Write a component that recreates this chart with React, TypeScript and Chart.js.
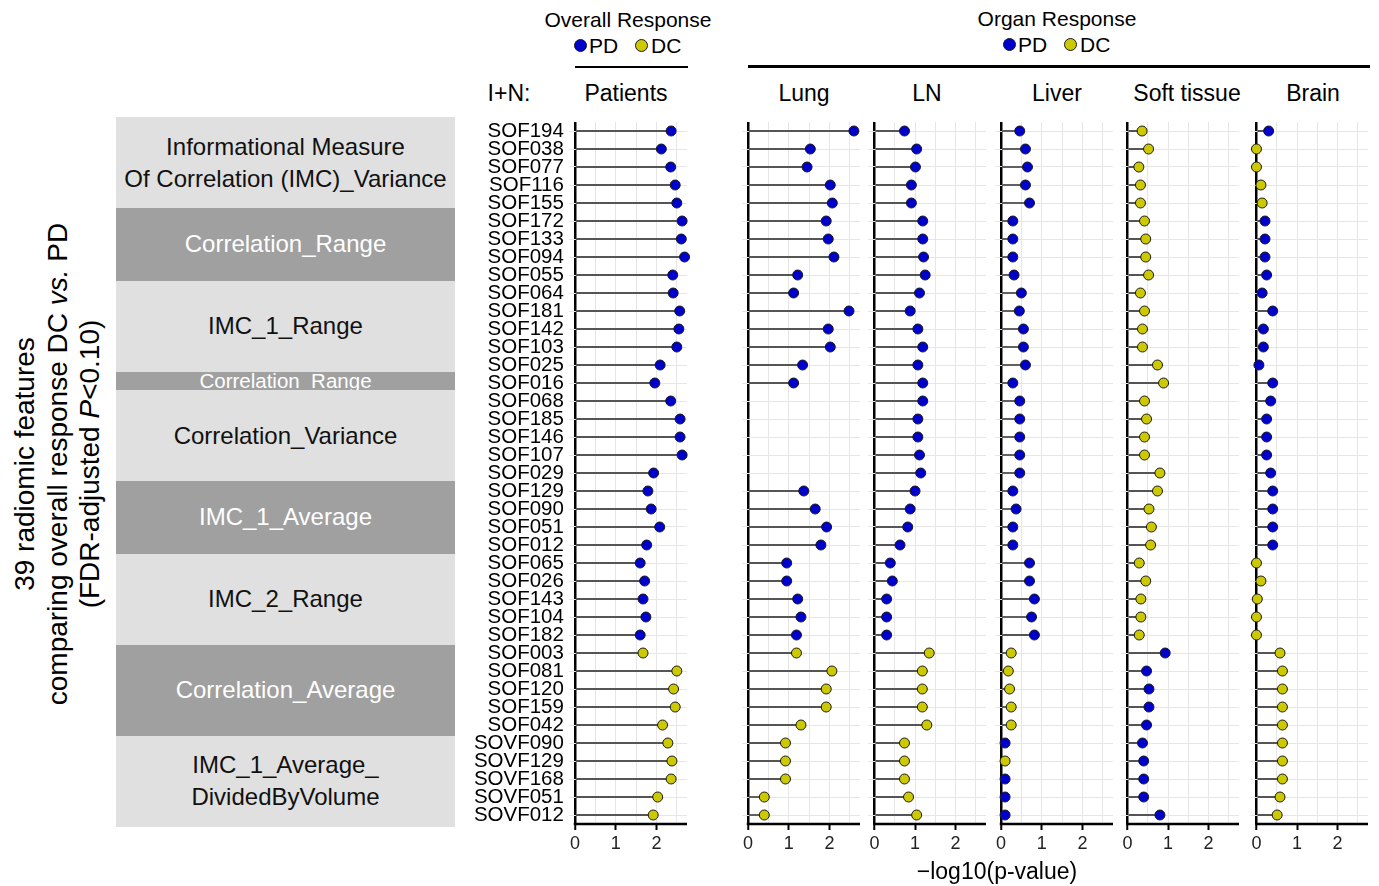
import React, { useEffect, useRef } from 'react';
import { Chart, registerables } from 'chart.js';

Chart.register(...registerables);

const FONT = '"Liberation Sans", Arial, Helvetica, sans-serif';

// ---------------- DATA ----------------
const features = [
  'SOF194', 'SOF038', 'SOF077', 'SOF116', 'SOF155', 'SOF172', 'SOF133', 'SOF094', 'SOF055', 'SOF064',
  'SOF181', 'SOF142', 'SOF103', 'SOF025', 'SOF016', 'SOF068', 'SOF185', 'SOF146', 'SOF107', 'SOF029',
  'SOF129', 'SOF090', 'SOF051', 'SOF012', 'SOF065', 'SOF026', 'SOF143', 'SOF104', 'SOF182', 'SOF003',
  'SOF081', 'SOF120', 'SOF159', 'SOF042', 'SOVF090', 'SOVF129', 'SOVF168', 'SOVF051', 'SOVF012',
];

const groupLabels = [
  ['Informational Measure', 'Of Correlation (IMC)_Variance'],
  ['Correlation_Range'],
  ['IMC_1_Range'],
  ['Correlation_Range'],
  ['Correlation_Variance'],
  ['IMC_1_Average'],
  ['IMC_2_Range'],
  ['Correlation_Average'],
  ['IMC_1_Average_', 'DividedByVolume'],
];
const groupCounts = [5, 4, 5, 1, 5, 4, 5, 5, 5];

const P = 'PD';
const D = 'DC';

const panelNames = ['Patients', 'Lung', 'LN', 'Liver', 'Soft tissue', 'Brain'];

const patientsValues = [
  2.36, 2.12, 2.35, 2.46, 2.50, 2.63, 2.61, 2.69, 2.40, 2.41,
  2.57, 2.55, 2.50, 2.09, 1.96, 2.35, 2.58, 2.58, 2.63, 1.93,
  1.79, 1.87, 2.08, 1.76, 1.60, 1.71, 1.67, 1.74, 1.60, 1.67,
  2.50, 2.42, 2.46, 2.15, 2.28, 2.38, 2.36, 2.03, 1.92,
];
const patientsResp = [
  P, P, P, P, P, P, P, P, P, P, P, P, P, P, P, P, P, P, P, P,
  P, P, P, P, P, P, P, P, P, D, D, D, D, D, D, D, D, D, D,
];

const lungValues = [
  2.60, 1.53, 1.45, 2.02, 2.07, 1.92, 1.97, 2.11, 1.22, 1.12,
  2.48, 1.97, 2.02, 1.34, 1.12, null, null, null, null, null,
  1.37, 1.65, 1.93, 1.79, 0.95, 0.95, 1.22, 1.30, 1.19, 1.19,
  2.06, 1.92, 1.92, 1.30, 0.92, 0.92, 0.92, 0.40, 0.40,
];
const lungResp = [
  P, P, P, P, P, P, P, P, P, P, P, P, P, P, P, P, P, P, P, P,
  P, P, P, P, P, P, P, P, P, D, D, D, D, D, D, D, D, D, D,
];

const lnValues = [
  0.74, 1.04, 1.01, 0.91, 0.91, 1.19, 1.19, 1.21, 1.25, 1.11,
  0.88, 1.07, 1.19, 1.07, 1.19, 1.19, 1.07, 1.07, 1.11, 1.14,
  1.00, 0.88, 0.82, 0.63, 0.39, 0.44, 0.30, 0.30, 0.30, 1.35,
  1.18, 1.18, 1.18, 1.29, 0.74, 0.74, 0.74, 0.84, 1.04,
];
const lnResp = [
  P, P, P, P, P, P, P, P, P, P, P, P, P, P, P, P, P, P, P, P,
  P, P, P, P, P, P, P, P, P, D, D, D, D, D, D, D, D, D, D,
];

const liverValues = [
  0.46, 0.60, 0.65, 0.60, 0.70, 0.29, 0.29, 0.29, 0.32, 0.50,
  0.45, 0.55, 0.55, 0.60, 0.29, 0.46, 0.46, 0.46, 0.46, 0.46,
  0.29, 0.37, 0.29, 0.29, 0.70, 0.70, 0.82, 0.75, 0.82, 0.25,
  0.18, 0.21, 0.25, 0.25, 0.10, 0.10, 0.10, 0.10, 0.10,
];
const liverResp = [
  P, P, P, P, P, P, P, P, P, P, P, P, P, P, P, P, P, P, P, P,
  P, P, P, P, P, P, P, P, P, D, D, D, D, D, P, D, P, P, P,
];

const softValues = [
  0.36, 0.52, 0.28, 0.32, 0.32, 0.42, 0.45, 0.45, 0.52, 0.32,
  0.42, 0.37, 0.37, 0.74, 0.89, 0.42, 0.47, 0.42, 0.42, 0.80,
  0.74, 0.53, 0.59, 0.57, 0.29, 0.45, 0.33, 0.33, 0.29, 0.93,
  0.47, 0.53, 0.53, 0.47, 0.37, 0.40, 0.40, 0.40, 0.80,
];
const softResp = [
  D, D, D, D, D, D, D, D, D, D, D, D, D, D, D, D, D, D, D, D,
  D, D, D, D, D, D, D, D, D, P, P, P, P, P, P, P, P, P, P,
];

const brainValues = [
  0.30, 0.00, 0.00, 0.11, 0.14, 0.21, 0.21, 0.21, 0.25, 0.14,
  0.40, 0.17, 0.17, 0.06, 0.40, 0.35, 0.25, 0.25, 0.25, 0.35,
  0.40, 0.40, 0.40, 0.40, 0.00, 0.11, 0.02, 0.00, 0.00, 0.58,
  0.64, 0.64, 0.64, 0.64, 0.64, 0.64, 0.64, 0.58, 0.51,
];
const brainResp = [
  P, D, D, D, D, P, P, P, P, P, P, P, P, P, P, P, P, P, P, P,
  P, P, P, P, D, D, D, D, D, D, D, D, D, D, D, D, D, D, D,
];

const panelValues = [patientsValues, lungValues, lnValues, liverValues, softValues, brainValues];
const panelResp = [patientsResp, lungResp, lnResp, liverResp, softResp, brainResp];

const xTickValues = [0, 0.5, 1, 1.5, 2, 2.5];
const X_MIN = -0.15;
const X_MAX = 2.75;

// ---------------- LAYOUT / STYLE ----------------
const BLUE = '#0000cd';
const YELLOW = '#cdc900';
const GRID = '#e6e6e6';
const UNIT = 40.7;
const PANEL_ZERO_X = [575, 748, 874.5, 1001, 1127.5, 1256.5];
const HEADER_X = [626, 804, 927, 1057, 1187, 1313];
const CHART_TOP = 122;
const ROW_H = 18;
const CANVAS_TOP = 112;
const X_AXIS_H = 40;

const bottomAxisLine = {
  id: 'bottomAxisLine',
  beforeDatasetsDraw(chart: any) {
    const { ctx, chartArea, scales } = chart;
    const x0 = scales.x.getPixelForValue(0);
    ctx.save();
    ctx.strokeStyle = '#000';
    ctx.lineWidth = 2.5;
    ctx.beginPath();
    ctx.moveTo(x0 - 1.25, chartArea.bottom);
    ctx.lineTo(chartArea.right, chartArea.bottom);
    ctx.stroke();
    ctx.restore();
  },
};

function Panel({ idx }: { idx: number }) {
  const ref = useRef<HTMLCanvasElement>(null);
  const showLabels = idx === 0;
  const leftExtra = showLabels ? 110 : 10;
  const rightPad = 12;
  const chartW = (X_MAX - X_MIN) * UNIT;
  const chartLeft = PANEL_ZERO_X[idx] + X_MIN * UNIT;
  const canvasLeft = Math.round(chartLeft - leftExtra);
  const yAxisW = chartLeft - canvasLeft;
  const width = Math.round(yAxisW + chartW + rightPad);
  const chartH = features.length * ROW_H;
  const padTop = CHART_TOP - CANVAS_TOP;
  const height = padTop + chartH + X_AXIS_H;

  useEffect(() => {
    const values = panelValues[idx];
    const resp = panelResp[idx];
    const chart = new Chart(ref.current as HTMLCanvasElement, {
      type: 'bar',
      data: {
        labels: features,
        datasets: [
          {
            type: 'line',
            data: values as any,
            indexAxis: 'y',
            showLine: false,
            pointRadius: 5,
            pointHoverRadius: 5,
            pointBackgroundColor: resp.map((r) => (r === P ? BLUE : YELLOW)),
            pointBorderColor: '#1a1a1a',
            pointBorderWidth: 1,
            order: 1,
            clip: false,
          } as any,
          {
            type: 'bar',
            data: values as any,
            indexAxis: 'y',
            backgroundColor: '#555555',
            barThickness: 1.2,
            order: 2,
          } as any,
        ],
      },
      options: {
        indexAxis: 'y',
        responsive: false,
        animation: false,
        events: [],
        layout: { padding: { top: padTop, right: rightPad, left: 0, bottom: 0 } },
        plugins: { legend: { display: false }, tooltip: { enabled: false } },
        scales: {
          x: {
            type: 'linear',
            min: X_MIN,
            max: X_MAX,
            afterBuildTicks: (s: any) => {
              s.ticks = xTickValues.map((v) => ({ value: v }));
            },
            afterFit: (s: any) => {
              s.height = X_AXIS_H;
              s.paddingLeft = 0;
              s.paddingRight = 0;
              s.paddingTop = 0;
              s.paddingBottom = 0;
            },
            border: { display: false },
            grid: {
              color: (c: any) => (c.tick && c.tick.value === 0 ? '#000' : GRID),
              lineWidth: (c: any) => (c.tick && c.tick.value === 0 ? 2.5 : 1),
              drawTicks: true,
              tickLength: 6,
              tickColor: (c: any) =>
                c.tick && Number.isInteger(c.tick.value) ? '#000' : 'rgba(0,0,0,0)',
              tickWidth: 2,
            },
            ticks: {
              autoSkip: false,
              maxRotation: 0,
              padding: 3,
              color: '#222',
              font: { family: FONT, size: 18 },
              callback: (v: any) => (Number.isInteger(v) ? String(v) : ''),
            },
          },
          y: {
            type: 'category',
            offset: true,
            afterFit: (s: any) => {
              s.width = yAxisW;
              s.paddingTop = 0;
              s.paddingBottom = 0;
              s.paddingLeft = 0;
              s.paddingRight = 0;
            },
            border: { display: false },
            grid: { offset: false, color: GRID, lineWidth: 1, drawTicks: false },
            ticks: {
              display: showLabels,
              autoSkip: false,
              padding: 5,
              color: '#000',
              font: { family: FONT, size: 20.5 },
            },
          },
        },
      } as any,
      plugins: [bottomAxisLine],
    });
    return () => chart.destroy();
  }, []);

  return (
    <canvas
      ref={ref}
      width={width}
      height={height}
      style={{ position: 'absolute', left: canvasLeft, top: CANVAS_TOP, width, height }}
    />
  );
}

function Txt(props: {
  x: number;
  y: number;
  size: number;
  color?: string;
  align?: 'center' | 'left';
  children: React.ReactNode;
}) {
  const { x, y, size, color = '#000', align = 'center', children } = props;
  return (
    <div
      style={{
        position: 'absolute',
        left: x,
        top: y,
        transform: align === 'center' ? 'translate(-50%, -50%)' : 'translate(0, -50%)',
        fontSize: size,
        fontFamily: FONT,
        color,
        whiteSpace: 'nowrap',
        lineHeight: 1,
        textAlign: 'center',
      }}
    >
      {children}
    </div>
  );
}

function Dot({ x, y, color }: { x: number; y: number; color: string }) {
  return (
    <div
      style={{
        position: 'absolute',
        left: x - 6.5,
        top: y - 6.5,
        width: 11,
        height: 11,
        borderRadius: '50%',
        background: color,
        border: '1px solid #1a1a1a',
      }}
    />
  );
}

function Legend({ x, y, title, titleY }: { x: number; y: number; title: string; titleY: number }) {
  return (
    <>
      <Txt x={x + 48} y={titleY} size={21}>
        {title}
      </Txt>
      <Dot x={x} y={y} color={BLUE} />
      <Txt x={x + 9} y={y} size={21} align="left">
        PD
      </Txt>
      <Dot x={x + 61} y={y} color={YELLOW} />
      <Txt x={x + 71} y={y} size={21} align="left">
        DC
      </Txt>
    </>
  );
}

function GroupBoxes() {
  const top0 = 117;
  const rowH = 18.2;
  let acc = 0;
  return (
    <>
      {groupCounts.map((n, i) => {
        const top = top0 + acc * rowH;
        acc += n;
        const h = n * rowH;
        const dark = i % 2 === 1;
        const lines = groupLabels[i];
        const small = n === 1;
        return (
          <div
            key={i}
            style={{
              position: 'absolute',
              left: 116,
              top,
              width: 339,
              height: h,
              background: dark ? '#a0a0a0' : '#e0e0e0',
              display: 'flex',
              flexDirection: 'column',
              alignItems: 'center',
              justifyContent: 'center',
              color: dark ? '#fff' : '#111',
              fontFamily: FONT,
              fontSize: small ? 20.5 : 24,
              lineHeight: small ? '18px' : '32px',
              whiteSpace: 'nowrap',
              overflow: 'visible',
            }}
          >
            {lines.map((l, j) => (
              <div key={j}>{l}</div>
            ))}
          </div>
        );
      })}
    </>
  );
}

export default function App() {
  return (
    <div
      style={{
        position: 'absolute',
        left: 0,
        top: 0,
        width: 1379,
        height: 886,
        background: '#fff',
        overflow: 'hidden',
      }}
    >
      {/* y-axis title */}
      <div
        style={{
          position: 'absolute',
          left: 57.5,
          top: 464,
          transform: 'translate(-50%, -50%) rotate(-90deg)',
          fontFamily: FONT,
          fontSize: 28,
          lineHeight: '32.5px',
          textAlign: 'center',
          whiteSpace: 'nowrap',
          color: '#000',
        }}
      >
        39 radiomic features
        <br />
        comparing overall response DC <i>vs.</i> PD
        <br />
        (FDR-adjusted <i>P</i>&lt;0.10)
      </div>

      <GroupBoxes />

      {/* headers */}
      <Legend x={580} y={45} title="Overall Response" titleY={19} />
      <Legend x={1009} y={44} title="Organ Response" titleY={18} />
      <div style={{ position: 'absolute', left: 575, top: 65.5, width: 113, height: 2.5, background: '#000' }} />
      <div style={{ position: 'absolute', left: 748, top: 65, width: 622, height: 2.5, background: '#000' }} />

      <Txt x={509} y={93} size={23}>
        I+N:
      </Txt>
      {panelNames.map((n, i) => (
        <Txt key={n} x={HEADER_X[i]} y={93} size={23}>
          {n}
        </Txt>
      ))}

      {panelNames.map((n, i) => (
        <Panel key={n} idx={i} />
      ))}

      <Txt x={997} y={871} size={23}>
        −log10(p-value)
      </Txt>
    </div>
  );
}
